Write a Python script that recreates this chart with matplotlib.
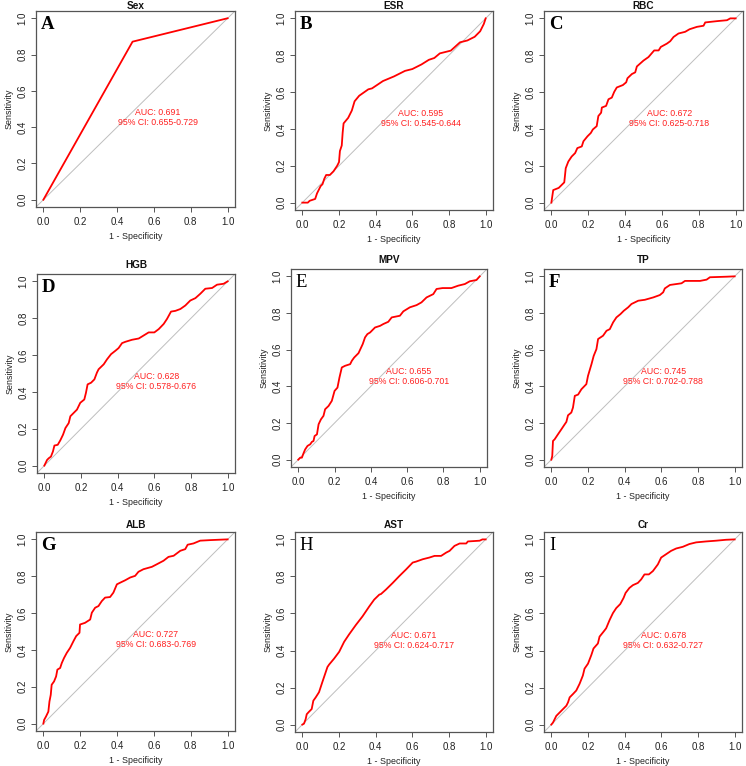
import matplotlib
matplotlib.use("Agg")
import matplotlib.pyplot as plt

# ---------------- data ----------------
titles = ["Sex", "ESR", "RBC", "HGB", "MPV", "TP", "ALB", "AST", "Cr"]
letters = ["A", "B", "C", "D", "E", "F", "G", "H", "I"]
auc_values = ["0.691", "0.595", "0.672", "0.628", "0.655", "0.745", "0.727", "0.671", "0.678"]
ci_values = ["0.655-0.729", "0.545-0.644", "0.625-0.718", "0.578-0.676", "0.606-0.701",
             "0.702-0.788", "0.683-0.769", "0.624-0.717", "0.632-0.727"]

sex_fpr = [0.0, 0.484, 1.0]
sex_tpr = [0.0, 0.871, 1.0]

esr_fpr = [0.0, 0.03, 0.04, 0.07, 0.08, 0.1, 0.11, 0.12, 0.13, 0.15, 0.17, 0.19, 0.2, 0.205, 0.215,
           0.22, 0.225, 0.25, 0.27, 0.285, 0.31, 0.36, 0.38, 0.44, 0.5, 0.56, 0.6, 0.65, 0.69, 0.72,
           0.75, 0.81, 0.86, 0.9, 0.94, 0.97, 0.99, 1.0]
esr_tpr = [0.0, 0.0, 0.01, 0.02, 0.05, 0.09, 0.1, 0.13, 0.15, 0.15, 0.17, 0.2, 0.22, 0.28, 0.31,
           0.38, 0.43, 0.46, 0.5, 0.55, 0.58, 0.615, 0.62, 0.66, 0.685, 0.715, 0.725, 0.75, 0.775, 0.785,
           0.81, 0.825, 0.87, 0.88, 0.9, 0.93, 0.97, 1.0]

rbc_fpr = [0.0, 0.01, 0.04, 0.07, 0.07, 0.078, 0.092, 0.11, 0.129, 0.141, 0.165, 0.174, 0.196, 0.214,
           0.225, 0.246, 0.255, 0.27, 0.274, 0.297, 0.31, 0.328, 0.341, 0.355, 0.388, 0.406, 0.413,
           0.437, 0.455, 0.464, 0.5, 0.527, 0.558, 0.582, 0.594, 0.627, 0.645, 0.663, 0.69, 0.726,
           0.75, 0.79, 0.826, 0.835, 0.899, 0.953, 0.971, 1.0]
rbc_tpr = [0.0, 0.068, 0.08, 0.11, 0.11, 0.187, 0.223, 0.25, 0.269, 0.296, 0.305, 0.333, 0.36, 0.378,
           0.397, 0.415, 0.47, 0.488, 0.516, 0.525, 0.561, 0.57, 0.601, 0.625, 0.638, 0.653, 0.675,
           0.698, 0.707, 0.739, 0.771, 0.79, 0.826, 0.826, 0.845, 0.863, 0.876, 0.899, 0.918, 0.927,
           0.941, 0.954, 0.96, 0.978, 0.985, 0.99, 1.0, 1.0]

hgb_fpr = [0.0, 0.015, 0.024, 0.036, 0.047, 0.055, 0.073, 0.087, 0.102, 0.115, 0.133, 0.142, 0.16,
           0.178, 0.196, 0.218, 0.227, 0.236, 0.255, 0.273, 0.287, 0.296, 0.324, 0.342, 0.364, 0.387,
           0.405, 0.424, 0.442, 0.478, 0.515, 0.533, 0.569, 0.6, 0.624, 0.651, 0.669, 0.691, 0.715,
           0.742, 0.769, 0.796, 0.824, 0.851, 0.878, 0.915, 0.942, 0.978, 1.0]
hgb_tpr = [0.0, 0.031, 0.04, 0.049, 0.077, 0.109, 0.113, 0.137, 0.168, 0.204, 0.231, 0.268, 0.286,
           0.304, 0.341, 0.359, 0.395, 0.441, 0.45, 0.468, 0.505, 0.523, 0.55, 0.577, 0.605, 0.623,
           0.638, 0.665, 0.672, 0.683, 0.69, 0.701, 0.723, 0.723, 0.741, 0.769, 0.796, 0.836, 0.84,
           0.85, 0.869, 0.896, 0.909, 0.933, 0.96, 0.964, 0.982, 0.987, 1.0]

mpv_fpr = [0.0, 0.011, 0.02, 0.029, 0.038, 0.051, 0.066, 0.075, 0.084, 0.09, 0.103, 0.112, 0.125,
           0.139, 0.148, 0.167, 0.185, 0.2, 0.216, 0.227, 0.24, 0.258, 0.286, 0.295, 0.308, 0.332,
           0.355, 0.368, 0.381, 0.396, 0.423, 0.451, 0.469, 0.496, 0.515, 0.56, 0.579, 0.615, 0.652,
           0.679, 0.707, 0.744, 0.762, 0.795, 0.844, 0.881, 0.918, 0.945, 0.982, 1.0]
mpv_tpr = [0.0, 0.011, 0.011, 0.035, 0.056, 0.075, 0.084, 0.097, 0.102, 0.129, 0.138, 0.193, 0.22,
           0.239, 0.275, 0.293, 0.321, 0.375, 0.393, 0.448, 0.503, 0.512, 0.521, 0.539, 0.557, 0.581,
           0.63, 0.667, 0.685, 0.694, 0.721, 0.73, 0.74, 0.752, 0.776, 0.785, 0.809, 0.831, 0.843,
           0.858, 0.885, 0.903, 0.931, 0.936, 0.936, 0.949, 0.958, 0.973, 0.98, 1.0]

tp_fpr = [0.0, 0.005, 0.009, 0.018, 0.036, 0.055, 0.073, 0.082, 0.091, 0.109, 0.118, 0.128, 0.146,
          0.164, 0.191, 0.2, 0.219, 0.231, 0.246, 0.255, 0.282, 0.301, 0.319, 0.337, 0.355, 0.377,
          0.395, 0.419, 0.437, 0.474, 0.51, 0.556, 0.592, 0.61, 0.619, 0.647, 0.71, 0.729, 0.811,
          0.847, 0.865, 0.956, 1.0]
tp_tpr = [0.0, 0.02, 0.102, 0.111, 0.138, 0.166, 0.193, 0.206, 0.242, 0.257, 0.284, 0.348, 0.355,
          0.384, 0.412, 0.457, 0.521, 0.566, 0.603, 0.658, 0.676, 0.703, 0.712, 0.749, 0.776, 0.794,
          0.812, 0.831, 0.849, 0.867, 0.872, 0.885, 0.898, 0.913, 0.934, 0.953, 0.962, 0.975, 0.975,
          0.982, 0.995, 0.998, 1.0]

alb_fpr = [0.0, 0.004, 0.014, 0.027, 0.033, 0.04, 0.045, 0.058, 0.069, 0.076, 0.091, 0.1, 0.112,
           0.127, 0.145, 0.163, 0.178, 0.196, 0.199, 0.226, 0.254, 0.263, 0.281, 0.299, 0.317, 0.335,
           0.362, 0.38, 0.399, 0.417, 0.444, 0.471, 0.498, 0.516, 0.543, 0.589, 0.616, 0.652, 0.679,
           0.707, 0.743, 0.77, 0.783, 0.815, 0.851, 0.906, 1.0]
alb_tpr = [0.0, 0.02, 0.038, 0.065, 0.12, 0.156, 0.211, 0.229, 0.256, 0.293, 0.302, 0.329, 0.356,
           0.384, 0.411, 0.447, 0.475, 0.493, 0.538, 0.547, 0.565, 0.602, 0.629, 0.638, 0.665, 0.684,
           0.687, 0.711, 0.756, 0.765, 0.778, 0.793, 0.802, 0.824, 0.838, 0.851, 0.865, 0.884, 0.905,
           0.911, 0.938, 0.947, 0.971, 0.978, 0.993, 0.996, 1.0]

ast_fpr = [0.0, 0.009, 0.018, 0.024, 0.036, 0.051, 0.06, 0.073, 0.091, 0.109, 0.137, 0.146, 0.173,
           0.201, 0.228, 0.255, 0.292, 0.328, 0.365, 0.392, 0.42, 0.429, 0.456, 0.493, 0.529, 0.566,
           0.602, 0.62, 0.657, 0.693, 0.721, 0.757, 0.785, 0.803, 0.83, 0.858, 0.894, 0.903, 0.967,
           0.982, 1.0]
ast_tpr = [0.0, 0.005, 0.029, 0.056, 0.069, 0.084, 0.129, 0.147, 0.175, 0.229, 0.311, 0.324, 0.356,
           0.393, 0.447, 0.487, 0.538, 0.584, 0.638, 0.675, 0.702, 0.705, 0.729, 0.765, 0.802, 0.838,
           0.875, 0.88, 0.893, 0.902, 0.911, 0.911, 0.929, 0.938, 0.965, 0.978, 0.978, 0.989, 0.993,
           1.0, 1.0]

cr_fpr = [0.0, 0.009, 0.018, 0.027, 0.045, 0.064, 0.082, 0.091, 0.1, 0.118, 0.136, 0.154, 0.172,
          0.181, 0.2, 0.218, 0.23, 0.254, 0.263, 0.285, 0.299, 0.318, 0.336, 0.354, 0.376, 0.394,
          0.405, 0.426, 0.445, 0.472, 0.49, 0.508, 0.532, 0.554, 0.581, 0.599, 0.626, 0.653, 0.681,
          0.717, 0.753, 0.79, 0.844, 0.898, 0.953, 1.0]
cr_tpr = [0.0, 0.011, 0.029, 0.047, 0.065, 0.084, 0.102, 0.12, 0.147, 0.165, 0.184, 0.22, 0.265,
          0.302, 0.329, 0.375, 0.411, 0.438, 0.475, 0.502, 0.52, 0.565, 0.602, 0.629, 0.651, 0.684,
          0.711, 0.738, 0.753, 0.765, 0.784, 0.811, 0.811, 0.829, 0.865, 0.902, 0.92, 0.938, 0.951,
          0.96, 0.975, 0.984, 0.989, 0.993, 0.998, 1.0]

fprs = [sex_fpr, esr_fpr, rbc_fpr, hgb_fpr, mpv_fpr, tp_fpr, alb_fpr, ast_fpr, cr_fpr]
tprs = [sex_tpr, esr_tpr, rbc_tpr, hgb_tpr, mpv_tpr, tp_tpr, alb_tpr, ast_tpr, cr_tpr]
ticks = [0.0, 0.2, 0.4, 0.6, 0.8, 1.0]
tick_labels = ["0.0", "0.2", "0.4", "0.6", "0.8", "1.0"]

# ---------------- layout (pixel boxes: left, right, top, bottom) ----------------
W, H = 746, 766
boxes = [(36, 235, 11, 207), (295, 493, 11, 210), (544, 743, 11, 210),
         (37, 235, 274, 473), (291, 487, 269, 467), (544, 742, 269, 467),
         (36, 235, 532, 731), (295, 493, 532, 732), (544, 742, 532, 732)]
title_pad = [1.2, 1.2, 1.2, 4.0, 4.0, 4.0, 3.0, 3.0, 3.0]
auc_x = [0.62, 0.645, 0.64, 0.61, 0.61, 0.61, 0.61, 0.61, 0.61]
letter_weight = ["bold", "bold", "bold", "bold", "normal", "bold", "bold", "normal", "normal"]

plt.rcParams["font.family"] = ["Liberation Sans", "DejaVu Sans"]
fig = plt.figure(figsize=(W / 100, H / 100), dpi=100)
fig.patch.set_facecolor("white")

frame_col = "#555555"
for i in range(9):
    L, R, T, B = boxes[i]
    ax = fig.add_axes([L / W, 1 - B / H, (R - L) / W, (B - T) / H])
    ax.set_xlim(-0.04, 1.04)
    ax.set_ylim(-0.04, 1.04)
    ax.axline((0, 0), (1, 1), color="#BEBEBE", lw=0.7, zorder=1)
    ax.plot(fprs[i], tprs[i], color="#FF0000", lw=1.3, zorder=3, solid_joinstyle="round")
    ax.set_xticks(ticks)
    ax.set_xticklabels(tick_labels)
    ax.set_yticks(ticks)
    ax.set_yticklabels(tick_labels, rotation=90, va="center")
    ax.tick_params(axis="both", direction="out", length=3.5, width=0.7, color=frame_col,
                   labelsize=7.0, labelcolor="#222222", pad=2.5)
    ax.tick_params(axis="x", pad=4.0)
    for s in ax.spines.values():
        s.set_color(frame_col)
        s.set_linewidth(0.9)
    ax.set_xlabel("1 - Specificity", fontsize=6.4, color="#222222", labelpad=3)
    ax.set_ylabel("Sensitivity", fontsize=6.4, color="#222222", labelpad=3)
    ax.set_title(titles[i], fontsize=7.2, fontweight="bold", pad=title_pad[i], color="#111111")
    ax.text(auc_x[i], 0.455, "AUC: %s\n95%% CI: %s" % (auc_values[i], ci_values[i]),
            color="#FF2020", fontsize=6.3, ha="center", va="center", linespacing=1.15)
    ax.text(0.025, 0.93, letters[i], transform=ax.transAxes, family=["Liberation Serif"],
            fontsize=13.5, fontweight=letter_weight[i], ha="left", va="center", color="black")

fig.savefig("out.png", dpi=100, facecolor="white")
